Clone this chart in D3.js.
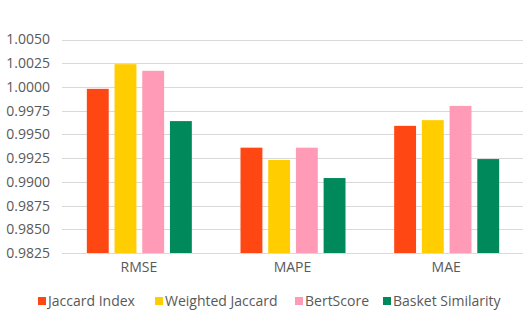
<!DOCTYPE html>
<html>
<head>
<meta charset="utf-8">
<script src="https://cdn.jsdelivr.net/npm/d3@7"></script>
<style>
  body { margin: 0; background: #fff; }
  text { font-family: "Open Sans", Lato, sans-serif; fill: #595959; }
</style>
</head>
<body>
<svg id="chart" width="523" height="311"></svg>
<script>
// chart data
var categories = ["RMSE", "MAPE", "MAE"];
var seriesNames = ["Jaccard Index", "Weighted Jaccard", "BertScore", "Basket Similarity"];
var jaccardIndex = [0.9998, 0.9936, 0.9959];
var weightedJaccard = [1.0024, 0.9923, 0.9965];
var bertScore = [1.0017, 0.9936, 0.9980];
var basketSimilarity = [0.9964, 0.9904, 0.9924];
var yTicks = [0.9825, 0.9850, 0.9875, 0.9900, 0.9925, 0.9950, 0.9975, 1.0000, 1.0025, 1.0050];

var colors = ["#FF4713", "#FFCD00", "#FF9BB6", "#008A5B"];
var allSeries = [jaccardIndex, weightedJaccard, bertScore, basketSimilarity];

var svg = d3.select("#chart"),
    plotLeft = 62, plotRight = 523, plotTop = 39.5, plotBottom = 253;

var x = d3.scaleBand().domain(categories).range([plotLeft, plotRight]);
var xs = d3.scaleBand().domain(d3.range(seriesNames.length))
    .range([0, 105]).paddingInner(0.21);
var y = d3.scaleLinear().domain([0.9825, 1.0050]).range([plotBottom, plotTop]);

// grid
svg.append("g").selectAll("line")
    .data(yTicks)
    .enter().append("line")
    .attr("x1", plotLeft).attr("x2", plotRight)
    .attr("y1", function(d) { return Math.round(y(d)) + 0.5; })
    .attr("y2", function(d) { return Math.round(y(d)) + 0.5; })
    .attr("stroke", "#d9d9d9").attr("stroke-width", 1);

// bars
var groups = svg.append("g").selectAll("g")
    .data(categories)
    .enter().append("g")
    .attr("transform", function(d) {
        return "translate(" + (x(d) + x.bandwidth() / 2 - 52) + ",0)";
    });

groups.selectAll("rect")
    .data(function(d, i) {
        return allSeries.map(function(s, j) { return {k: j, v: s[i]}; });
    })
    .enter().append("rect")
    .attr("x", function(d) { return xs(d.k); })
    .attr("width", xs.bandwidth())
    .attr("y", function(d) { return y(d.v); })
    .attr("height", function(d) { return plotBottom - y(d.v); })
    .attr("fill", function(d) { return colors[d.k]; });

// y axis labels
var yAxis = d3.axisLeft(y).tickValues(yTicks).tickFormat(d3.format(".4f")).tickSize(0).tickPadding(0);
var ya = svg.append("g").attr("transform", "translate(50,0)").call(yAxis);
ya.select(".domain").remove();
ya.selectAll("text").style("font-size", "14px").attr("fill", "#595959");

// x axis labels
var xAxis = d3.axisBottom(x).tickSize(0).tickPadding(9);
var xa = svg.append("g").attr("transform", "translate(0," + plotBottom + ")").call(xAxis);
xa.select(".domain").remove();
xa.selectAll("text").style("font-size", "14px").attr("fill", "#595959");

// legend
var legendX = [38, 155, 295, 383];
var legend = svg.append("g").selectAll("g")
    .data(seriesNames)
    .enter().append("g")
    .attr("transform", function(d, i) { return "translate(" + legendX[i] + ",297)"; });
legend.append("rect")
    .attr("width", 8).attr("height", 8)
    .attr("fill", function(d, i) { return colors[i]; });
legend.append("text")
    .attr("x", 10).attr("y", 9)
    .style("font-size", "14px")
    .text(function(d) { return d; });
</script>
</body>
</html>
